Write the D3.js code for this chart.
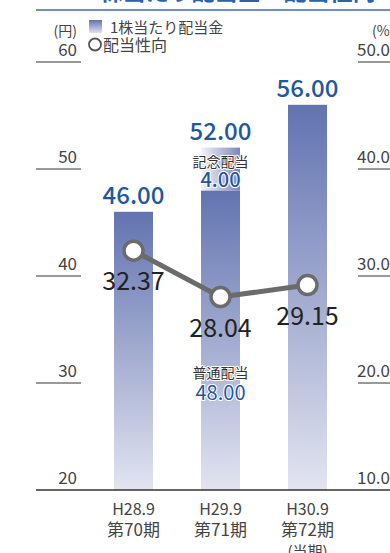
<!DOCTYPE html>
<html><head><meta charset="utf-8">
<script src="https://cdn.jsdelivr.net/npm/d3@7"></script>
<style>
html,body{margin:0;padding:0;background:#fff;}
svg{display:block;font-family:"Noto Sans CJK JP","Noto Sans",sans-serif;}
</style></head>
<body>
<svg id="c" width="390" height="553"></svg>
<script>
const periods = ["H28.9","H29.9","H30.9"];
const terms = ["第70期","第71期","第72期"];
const dividends = [46.00, 52.00, 56.00];
const regularDividend = [null, 48.00, null];
const commemorative = [null, 4.00, null];
const payoutRatio = [32.37, 28.04, 29.15];
const leftTicks = [20, 30, 40, 50, 60];
const rightTicks = [10.0, 20.0, 30.0, 40.0, 50.0];

const svg = d3.select("#c");
const yL = d3.scaleLinear().domain([20, 60]).range([490, 62]);
const yR = d3.scaleLinear().domain([10, 50]).range([490, 62]);
const x = d3.scaleBand().domain(periods).range([90, 351]).paddingInner(0.552).paddingOuter(0.276);

const defs = svg.append("defs");
const g1 = defs.append("linearGradient").attr("id","barG").attr("x1",0).attr("y1",0).attr("x2",0).attr("y2",1);
g1.append("stop").attr("offset","0%").attr("stop-color","#6273b0");
g1.append("stop").attr("offset","100%").attr("stop-color","#e2e4f0");
const g2 = defs.append("linearGradient").attr("id","memG").attr("x1",0).attr("y1",0).attr("x2",1).attr("y2",0);
g2.append("stop").attr("offset","0%").attr("stop-color","#f4f4fa");
g2.append("stop").attr("offset","100%").attr("stop-color","#7c86bf");
const g3 = defs.append("linearGradient").attr("id","legG").attr("x1",0).attr("y1",0).attr("x2",0).attr("y2",1);
g3.append("stop").attr("offset","0%").attr("stop-color","#6273b0");
g3.append("stop").attr("offset","100%").attr("stop-color","#dfe2f0");

// title (cut off at top)
svg.append("text").attr("x",231).attr("y",0).attr("text-anchor","middle")
  .attr("font-size",23).attr("font-weight","bold").attr("fill","#2a63ad")
  .text("1株当たり配当金・配当性向");
svg.append("line").attr("x1",36).attr("x2",390).attr("y1",10).attr("y2",10)
  .attr("stroke","#3a6db5").attr("stroke-width",1.5);

// left axis
const lt = svg.append("g");
leftTicks.forEach(t=>{
  if(t!==20) lt.append("line").attr("x1",36).attr("x2",81).attr("y1",yL(t)).attr("y2",yL(t)).attr("stroke","#777").attr("stroke-width",1.5);
  lt.append("text").attr("x",77).attr("y",yL(t)-6).attr("text-anchor","end").attr("font-size",17).attr("fill","#444").text(t);
});
svg.append("text").attr("x",77).attr("y",36).attr("text-anchor","end").attr("font-size",14).attr("fill","#444").text("(円)");

// right axis
const rt = svg.append("g");
rightTicks.forEach(t=>{
  if(t!==10) rt.append("line").attr("x1",358).attr("x2",392).attr("y1",yR(t)).attr("y2",yR(t)).attr("stroke","#777").attr("stroke-width",1.5);
  rt.append("text").attr("x",357).attr("y",yR(t)-6).attr("font-size",17).attr("fill","#444").text(t.toFixed(1));
});
svg.append("text").attr("x",372).attr("y",36).attr("font-size",14).attr("fill","#444").text("(%)");

// bars
const bw = x.bandwidth();
periods.forEach((p,i)=>{
  const top = regularDividend[i]!=null ? yL(regularDividend[i]) : yL(dividends[i]);
  svg.append("rect").attr("x",x(p)).attr("y",top).attr("width",bw).attr("height",yL(20)-top).attr("fill","url(#barG)");
  if(commemorative[i]!=null){
    svg.append("rect").attr("x",x(p)).attr("y",yL(dividends[i])).attr("width",bw)
      .attr("height",yL(regularDividend[i])-yL(dividends[i])).attr("fill","url(#memG)");
  }
  svg.append("text").attr("x",x(p)+bw/2).attr("y",yL(dividends[i])-8).attr("text-anchor","middle")
    .attr("font-size",24).attr("font-weight","500").attr("fill","#1f57a1").text(dividends[i].toFixed(2));
});

// baseline
svg.append("line").attr("x1",36).attr("x2",390).attr("y1",yL(20)).attr("y2",yL(20)).attr("stroke","#333").attr("stroke-width",1.5);

// commemorative / regular labels
const halo = sel => sel.attr("stroke","#fff").attr("stroke-width",2).attr("paint-order","stroke").attr("stroke-linejoin","round");
periods.forEach((p,i)=>{
  if(commemorative[i]!=null){
    const cx = x(p)+bw/2;
    halo(svg.append("text").attr("x",cx).attr("y",167).attr("text-anchor","middle").attr("font-size",14).attr("fill","#333").text("記念配当"));
    halo(svg.append("text").attr("x",cx).attr("y",yL(regularDividend[i])-3).attr("text-anchor","middle").attr("font-size",20).attr("font-weight","500").attr("fill","#1f57a1").text(commemorative[i].toFixed(2)));
    halo(svg.append("text").attr("x",cx).attr("y",378).attr("text-anchor","middle").attr("font-size",14).attr("fill","#333").text("普通配当"));
    halo(svg.append("text").attr("x",cx).attr("y",400).attr("text-anchor","middle").attr("font-size",20).attr("fill","#1f57a1").text(regularDividend[i].toFixed(2)));
  }
});

// line
const line = d3.line().x((d,i)=>x(periods[i])+bw/2).y(d=>yR(d));
svg.append("path").attr("d",line(payoutRatio)).attr("fill","none").attr("stroke","#6b6b6b").attr("stroke-width",5);
payoutRatio.forEach((v,i)=>{
  svg.append("circle").attr("cx",x(periods[i])+bw/2).attr("cy",yR(v)).attr("r",9.5)
    .attr("fill","#fff").attr("stroke","#6b6b6b").attr("stroke-width",3.5);
});
const lblOff = [39, 40, 40];
payoutRatio.forEach((v,i)=>{
  svg.append("text").attr("x",x(periods[i])+bw/2).attr("y",yR(v)+lblOff[i]).attr("text-anchor","middle")
    .attr("font-size",25).attr("fill","#222").text(v.toFixed(2));
});

// x labels
periods.forEach((p,i)=>{
  const cx = x(p)+bw/2;
  svg.append("text").attr("x",cx).attr("y",515).attr("text-anchor","middle").attr("font-size",16).attr("fill","#444").text(p);
  svg.append("text").attr("x",cx).attr("y",536).attr("text-anchor","middle").attr("font-size",17).attr("fill","#444").text(terms[i]);
});
svg.append("text").attr("x",x(periods[2])+bw/2).attr("y",557).attr("text-anchor","middle").attr("font-size",15).attr("fill","#444").text("(当期)");

// legend
svg.append("rect").attr("x",89).attr("y",20).attr("width",13).attr("height",13).attr("fill","url(#legG)");
svg.append("text").attr("x",110).attr("y",33).attr("font-size",15).attr("fill","#444").text("1株当たり配当金");
svg.append("circle").attr("cx",95).attr("cy",44.5).attr("r",6).attr("fill","#fff").attr("stroke","#555").attr("stroke-width",1.8);
svg.append("text").attr("x",103).attr("y",51).attr("font-size",16).attr("fill","#444").text("配当性向");
</script>
</body></html>
